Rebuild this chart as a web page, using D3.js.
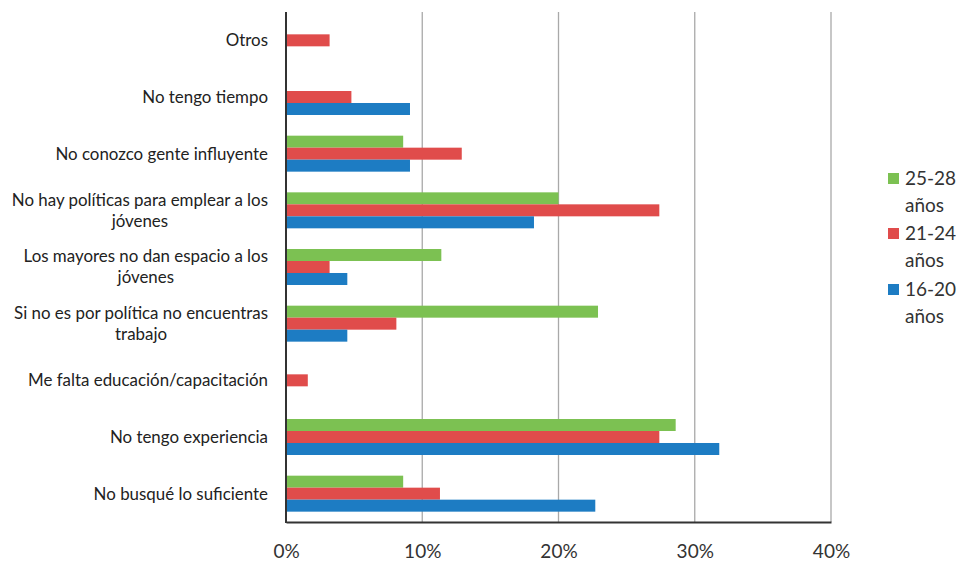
<!DOCTYPE html>
<html>
<head>
<meta charset="utf-8">
<script src="https://cdn.jsdelivr.net/npm/d3@7"></script>
<style>
  body { margin: 0; background: #fff; }
  svg { display: block; font-family: Lato, "Noto Sans", sans-serif; }
</style>
</head>
<body>
<div id="chart"></div>
<script>
const categories = [
    "Otros",
    "No tengo tiempo",
    "No conozco gente influyente",
    "No hay políticas para emplear a los\njóvenes",
    "Los mayores no dan espacio a los\njóvenes",
    "Si no es por política no encuentras\ntrabajo",
    "Me falta educación/capacitación",
    "No tengo experiencia",
    "No busqué lo suficiente"
];

const seriesNames = ["25-28 años", "21-24 años", "16-20 años"];
const seriesColors = ["#7cc152", "#e04c4b", "#1d7cc3"];

const s25to28 = [0, 0, 8.6, 20.0, 11.4, 22.9, 0, 28.6, 8.6];
const s21to24 = [3.2, 4.8, 12.9, 27.4, 3.2, 8.1, 1.6, 27.4, 11.3];
const s16to20 = [0, 9.1, 9.1, 18.2, 4.5, 4.5, 0, 31.8, 22.7];

const xTicks = [0, 10, 20, 30, 40];

const W = 961, H = 562;
const margin = { top: 12, right: 130, bottom: 40, left: 286 };
const plotW = 831 - margin.left, plotH = 522 - margin.top;

const allSeries = [s25to28, s21to24, s16to20];

const svg = d3.select("#chart").append("svg")
    .attr("width", W)
    .attr("height", H);

const g = svg.append("g").attr("transform", `translate(${margin.left},${margin.top})`);

const x = d3.scaleLinear().domain([0, 40]).range([0, plotW]);
const y = d3.scaleBand().domain(categories).range([0, plotH])
    .paddingInner(0.365).paddingOuter(0.1825);
const ySub = d3.scaleBand().domain(seriesNames).range([0, y.bandwidth()]);

// gridlines
g.append("g")
    .selectAll("line")
    .data(xTicks.slice(1))
    .enter()
    .append("line")
    .attr("x1", d => x(d)).attr("x2", d => x(d))
    .attr("y1", 0).attr("y2", plotH)
    .attr("stroke", "#a9a9a9")
    .attr("stroke-width", 1.3);

// bars
const rows = categories.map((c, i) => ({ cat: c, vals: allSeries.map(s => s[i]) }));
const groups = g.selectAll(".grp")
    .data(rows)
    .enter()
    .append("g")
    .attr("class", "grp")
    .attr("transform", d => `translate(0,${y(d.cat)})`);

groups.selectAll("rect")
    .data(d => d.vals.map((v, j) => ({ v: v, name: seriesNames[j], color: seriesColors[j] })))
    .enter()
    .append("rect")
    .attr("x", 0)
    .attr("y", d => ySub(d.name))
    .attr("width", d => x(d.v))
    .attr("height", ySub.bandwidth())
    .attr("fill", d => d.color);

// axes
const xAxis = g.append("g")
    .attr("transform", `translate(0,${plotH})`)
    .call(d3.axisBottom(x).tickValues(xTicks).tickFormat(d => d + "%").tickSize(0).tickPadding(23));
xAxis.select(".domain").attr("stroke", "#333").attr("stroke-width", 2);
xAxis.selectAll("text").attr("font-size", 19).attr("fill", "#333").attr("font-family", "Lato, sans-serif");

g.append("line")
    .attr("x1", 0).attr("x2", 0)
    .attr("y1", 0).attr("y2", plotH + 1)
    .attr("stroke", "#333")
    .attr("stroke-width", 2);

// category labels, wrapped lines centred on each other
const labels = g.append("g")
    .selectAll("text")
    .data(categories)
    .enter()
    .append("text")
    .attr("font-size", 16.9)
    .attr("fill", "#222")
    .attr("text-anchor", "middle")
    .each(function (d) {
        const lines = d.split("\n");
        const t = d3.select(this);
        const cy = y(d) + y.bandwidth() / 2;
        const lh = 21;
        lines.forEach((ln, k) => {
            t.append("tspan")
                .attr("y", cy + (k - (lines.length - 1) / 2) * lh)
                .attr("dy", "0.35em")
                .text(ln);
        });
    });

labels.each(function () {
    const spans = d3.select(this).selectAll("tspan").nodes();
    const widest = d3.max(spans, s => s.getComputedTextLength());
    const cx = -18 - widest / 2;
    spans.forEach(s => d3.select(s).attr("x", cx));
});

// legend (runs off the right edge like the original)
const legend = svg.append("g").attr("transform", "translate(888,0)");
const legendY = [178, 233, 289];
seriesNames.forEach((name, i) => {
    const [range, unit] = name.split(" ");
    legend.append("rect")
        .attr("x", 0)
        .attr("y", legendY[i] - 5)
        .attr("width", 11)
        .attr("height", 11)
        .attr("fill", seriesColors[i]);
    const t = legend.append("text")
        .attr("font-size", 19)
        .attr("fill", "#333");
    t.append("tspan").attr("x", 17).attr("y", legendY[i]).attr("dy", "0.35em").text(range);
    t.append("tspan").attr("x", 17).attr("y", legendY[i] + 27).attr("dy", "0.35em").text(unit);
});
</script>
</body>
</html>
